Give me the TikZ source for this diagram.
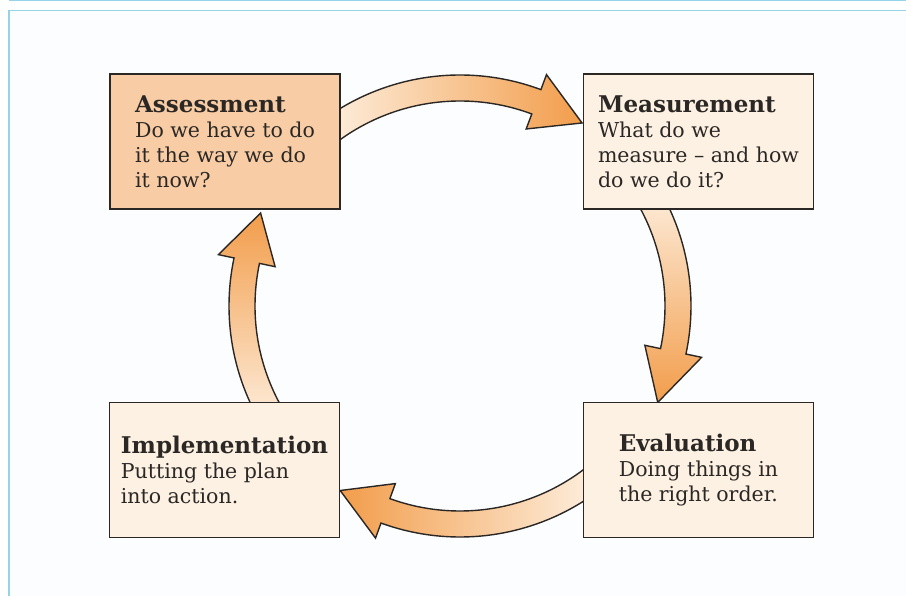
\documentclass[tikz,border=0pt]{standalone}
\usepackage{fontspec}
\setmainfont{DejaVu Serif}
\usetikzlibrary{backgrounds}
\definecolor{Ink}{HTML}{2B2725}
\definecolor{Peach}{HTML}{F8CCA4}
\definecolor{Cream}{HTML}{FCF1E2}
\definecolor{Amber}{HTML}{F29D4B}
\definecolor{Pale}{HTML}{FEF3E6}
\definecolor{Sky}{HTML}{96D3E8}
\definecolor{Paper}{HTML}{FBFDFE}

\newcommand{\steptitle}[1]{{\fontsize{23}{26}\selectfont\bfseries #1}}

\begin{document}
\begin{tikzpicture}[x=1pt,y=1pt,
    stepbox/.style={draw=Ink,line width=1.6pt,minimum width=230pt,minimum height=135pt,
      align=left,text=Ink,font=\fontsize{20.5}{25}\selectfont},
    band/.style={draw=Ink,line width=1.4pt,line join=miter,top color=Amber,bottom color=Pale}]
    \useasboundingbox (0,0) rectangle (906,596);
    \coordinate (hub) at (460,290);
    \foreach \name/\x/\y/\tint/\title/\body in {
        assess/225/454.5/Peach/Assessment/Do we have to do\\it the way we do\\it now?,
        measure/698.5/454.5/Cream/Measurement/What do we\\measure -- and how\\do we do it?,
        evaluate/698.5/126/Cream/Evaluation/Doing things in\\the right order.,
        implement/224.5/126/Cream/Implementation/Putting the plan\\into action.}{
      \node[stepbox,fill=\tint] (\name) at (\x,\y) {\steptitle{\title}\\\body};
    }
    \begin{scope}[on background layer]
      % paper and frame
      \fill[white] (0,0) rectangle (906,596);
      \fill[Paper] (9,0) rectangle (906,585.5);
      \draw[Sky,line width=1.2pt] (9,595.5) -- (906,595.5);
      \draw[Sky,line width=1.2pt] (9,0) -- (9,585.5) -- (906,585.5);
      % curved arrows round the hub, tails tucked under the boxes
      \foreach \from/\base/\tip/\turn in {130/69.5/56.3/-90,35/-12/-26/180,-50/-110/-123/90,215/168/155/0}{
        \draw[band,shading angle=\turn]
          ([shift={(\from:231)}]hub) arc[start angle=\from,end angle=\base,radius=231]
          -- ([shift={(\base:247)}]hub) -- ([shift={(\tip:220)}]hub) -- ([shift={(\base:189)}]hub)
          -- ([shift={(\base:205)}]hub) arc[start angle=\base,end angle=\from,radius=205] -- cycle;
      }
    \end{scope}
\end{tikzpicture}
\end{document}
